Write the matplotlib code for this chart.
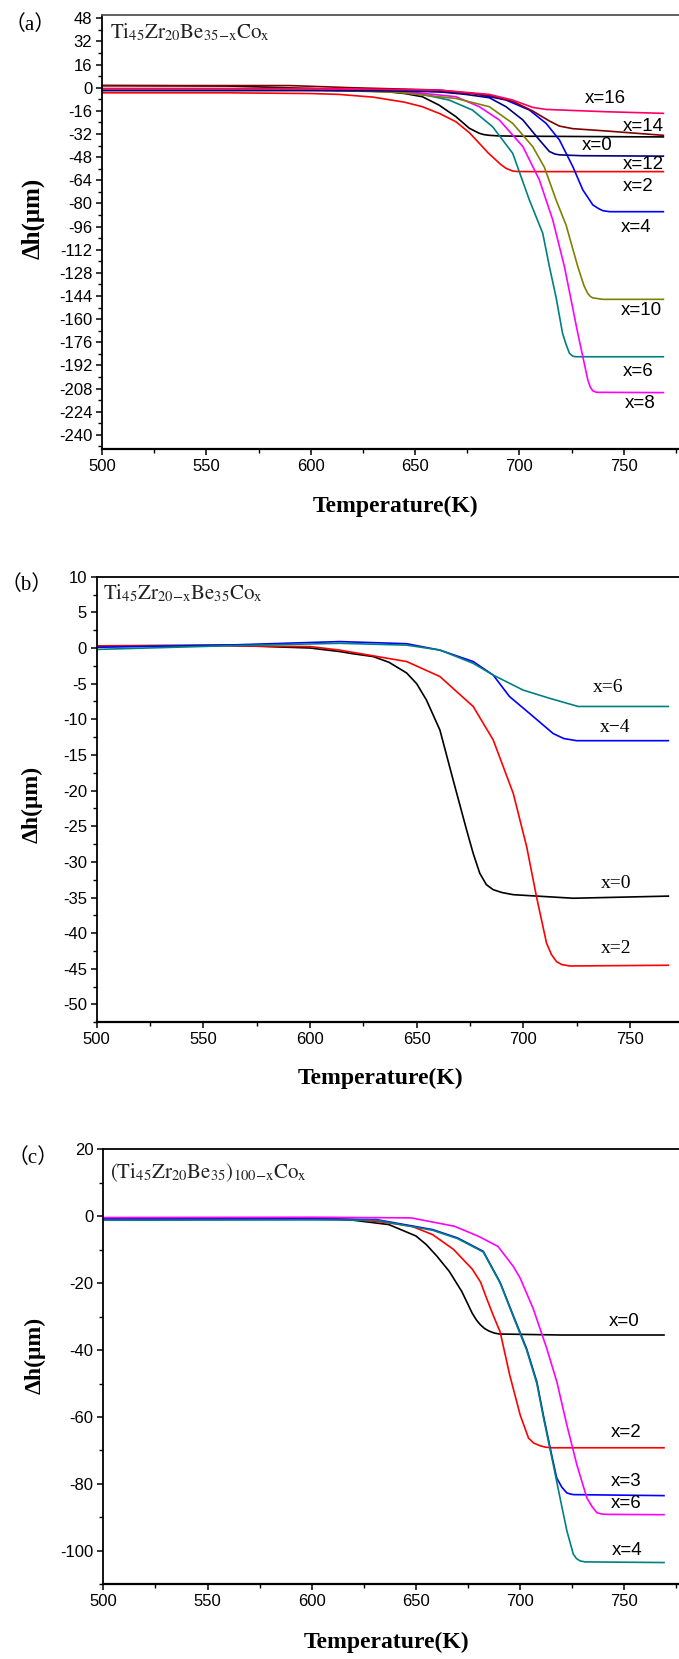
import matplotlib
matplotlib.use('Agg')
import matplotlib.pyplot as plt
from matplotlib.ticker import MultipleLocator

plt.rcParams['mathtext.fontset'] = 'stix'
plt.rcParams['axes.unicode_minus'] = False
plt.rcParams['font.family'] = ['Liberation Sans', 'DejaVu Sans']

# ---------------- Panel (a): Ti45Zr20Be35-xCox ----------------
a_labels = ['x=0', 'x=2', 'x=4', 'x=6', 'x=8', 'x=10', 'x=12', 'x=14', 'x=16']
a_colors = ['#000000', '#FF0000', '#0000FF', '#008080', '#FF00FF', '#808000', '#000080', '#800000', '#FF0066']
a_T0 = [500, 560, 600, 613, 637, 645, 653.5, 661.5, 669.6, 676, 680.8, 683, 685.6, 690, 700, 740, 769]
a_h0 = [1.5, 1.2, -0.5, -1.5, -2.8, -4.0, -6.2, -12.0, -20.0, -28.0, -31.5, -32.4, -32.9, -33.3, -33.5, -33.8, -34.0]
a_T2 = [500, 560, 600, 613.5, 630, 645, 653.5, 662, 669.6, 676, 680.8, 685, 688.8, 691, 693.6, 696.8, 699, 705, 769]
a_h2 = [-3.5, -3.5, -4.0, -4.6, -6.5, -10.0, -13.1, -18.0, -23.5, -31.0, -38.4, -45.0, -50.0, -53.0, -55.7, -57.6, -57.9, -58.0, -58.0]
a_T4 = [500, 600, 650, 677.5, 693.6, 704.8, 712.8, 719.2, 725.6, 730.4, 735.2, 738, 740, 743.2, 769]
a_h4 = [-1.5, -1.5, -2.0, -3.8, -8.5, -15.4, -24.6, -36.1, -54.5, -70.6, -81.0, -83.6, -85.0, -85.7, -85.7]
a_T6 = [500, 600, 640, 653.5, 666.3, 677.5, 687.2, 696.8, 704.8, 711.2, 714.4, 717.6, 720.7, 722.5, 724, 725.6, 727, 769]
a_h6 = [-1.5, -1.5, -2.5, -4.6, -8.5, -15.4, -27.0, -45.3, -77.6, -100.6, -123.7, -145.0, -169.8, -178.0, -183.6, -185.6, -186.0, -186.0]
a_T8 = [500, 600, 640, 653.5, 669.6, 680.8, 690.4, 701.7, 709.6, 716, 721.6, 728, 732.8, 734, 735.2, 737, 769]
a_h8 = [-1.0, -1.0, -2.0, -3.8, -6.2, -13.1, -22.3, -40.7, -63.8, -91.4, -123.7, -169.8, -202.0, -207.0, -209.6, -210.6, -210.8]
a_T10 = [500, 600, 640, 669.6, 685.6, 696.8, 706.4, 712, 717.6, 722.4, 728, 731, 732.7, 734, 735.2, 740, 769]
a_h10 = [-1.6, -1.6, -3.0, -7.4, -13.1, -24.6, -40.7, -55.0, -77.6, -95.0, -123.7, -137.0, -142.0, -144.3, -145.3, -146.3, -146.3]
a_T12 = [500, 600, 640, 661.5, 674.3, 685.6, 693.6, 701.7, 709.6, 714.4, 717, 719.2, 730, 769]
a_h12 = [-2.0, -2.0, -2.2, -2.8, -4.6, -6.9, -13.1, -22.3, -36.1, -44.1, -45.8, -46.4, -47.0, -47.3]
a_T14 = [500, 590, 620, 661.5, 685.6, 696.8, 706.4, 714.4, 719.2, 725.6, 741.7, 769]
a_h14 = [1.5, 1.5, 0.0, -1.6, -5.3, -9.4, -16.1, -23.0, -26.5, -28.3, -29.9, -32.9]
a_T16 = [500, 600, 661.5, 685.6, 696.8, 706.4, 712.8, 741.7, 769]
a_h16 = [-0.5, -0.5, -1.6, -4.6, -8.5, -13.6, -15.0, -16.6, -17.7]
a_T = [a_T0, a_T2, a_T4, a_T6, a_T8, a_T10, a_T12, a_T14, a_T16]
a_h = [a_h0, a_h2, a_h4, a_h6, a_h8, a_h10, a_h12, a_h14, a_h16]
a_lab_T = [729.8, 749.5, 748.6, 749.5, 750.5, 748.6, 749.5, 749.5, 731.3]
a_lab_h = [-39.6, -68.0, -96.4, -196.5, -218.6, -154.3, -53.4, -26.5, -7.1]

# ---------------- Panel (b): Ti45Zr20-xBe35Cox ----------------
b_labels = ['x=0', 'x=2', 'x\u22124', 'x=6']
b_colors = ['#000000', '#FF0000', '#0000FF', '#008080']
b_T0 = [500, 560, 600, 614, 620, 629.6, 637, 645.3, 650, 654.6, 660.9, 667.1, 673.4, 676.5, 679.6, 682.7, 685.9, 690, 695.3, 723.4, 768]
b_h0 = [0.3, 0.4, 0.0, -0.5, -0.8, -1.2, -2.0, -3.5, -5.0, -7.3, -11.5, -18.5, -25.5, -28.8, -31.6, -33.2, -33.9, -34.3, -34.6, -35.1, -34.8]
b_T2 = [500, 560, 600, 614, 645.3, 660.9, 676.5, 685.9, 695.3, 701.6, 706.2, 710.9, 713.2, 715.6, 718, 721.8, 768]
b_h2 = [0.3, 0.3, 0.2, -0.3, -1.9, -4.0, -8.2, -12.9, -20.4, -27.9, -34.9, -41.4, -43.0, -44.0, -44.4, -44.6, -44.5]
b_T4 = [500, 560, 614, 645.3, 660.9, 676.5, 685.9, 693.5, 704.6, 714, 719, 725, 768]
b_h4 = [0.1, 0.4, 0.9, 0.6, -0.3, -1.9, -3.8, -6.8, -9.6, -12.0, -12.7, -13.0, -13.0]
b_T6 = [500, 560, 614, 645.3, 660.9, 676.5, 685.9, 699.9, 712.4, 725.7, 768]
b_h6 = [-0.2, 0.3, 0.66, 0.4, -0.28, -2.15, -3.8, -5.9, -7.06, -8.2, -8.2]
b_T = [b_T0, b_T2, b_T4, b_T6]
b_h = [b_h0, b_h2, b_h4, b_h6]
b_lab_T = [736.4, 736.4, 735.8, 732.6]
b_lab_h = [-33.0, -42.1, -11.15, -5.6]

# ---------------- Panel (c): (Ti45Zr20Be35)100-xCox ----------------
c_labels = ['x=0', 'x=2', 'x=3', 'x=4', 'x=6']
c_colors = ['#000000', '#FF0000', '#0000FF', '#008080', '#FF00FF']
c_T0 = [500, 600, 612.5, 620, 637, 650, 655, 660, 666, 672, 677, 679, 681, 683, 685, 687.5, 690, 720, 769]
c_h0 = [-0.8, -0.6, -0.9, -1.2, -2.5, -5.9, -8.5, -11.9, -16.5, -22.5, -29.0, -31.0, -32.5, -33.6, -34.3, -34.9, -35.2, -35.5, -35.5]
c_T2 = [500, 600, 620, 635, 648, 658, 668, 677, 681, 684, 687, 690.4, 695, 700, 704, 706.5, 709.6, 712, 715, 769]
c_h2 = [-0.8, -0.5, -1.0, -1.8, -3.0, -5.5, -9.9, -15.8, -19.7, -24.7, -29.5, -34.6, -47.5, -59.4, -66.3, -67.8, -68.6, -69.0, -69.2, -69.2]
c_T3 = [500, 600, 631, 658, 670, 682.3, 690.4, 696.7, 703.1, 708, 711.1, 714.4, 717.5, 720, 722.4, 724, 725.5, 769]
c_h3 = [-0.8, -0.8, -1.0, -4.0, -6.5, -10.5, -19.8, -29.7, -39.6, -49.5, -59.4, -69.3, -78.2, -81.0, -82.7, -83.0, -83.2, -83.5]
c_T4 = [500, 600, 631, 658, 670, 682.3, 690.4, 696.7, 703.1, 708, 711.1, 714.4, 715.9, 719.1, 722.4, 725.5, 727, 728.7, 731, 769]
c_h4 = [-1.2, -1.1, -1.2, -4.2, -6.7, -10.7, -20.0, -30.0, -40.0, -50.0, -60.0, -69.8, -74.3, -84.1, -94.0, -101.0, -102.3, -103.0, -103.3, -103.5]
c_T6 = [500, 600, 647.7, 668.5, 680, 689.3, 696.7, 700, 706.3, 712.8, 717.6, 722.4, 727.2, 732, 734.5, 736.8, 739, 741.6, 769]
c_h6 = [-0.4, -0.3, -0.5, -3.0, -6.0, -9.0, -15.0, -18.5, -27.7, -39.6, -49.5, -62.4, -74.3, -84.2, -86.8, -88.6, -89.0, -89.1, -89.2]
c_T = [c_T0, c_T2, c_T3, c_T4, c_T6]
c_h = [c_h0, c_h2, c_h3, c_h4, c_h6]
c_lab_T = [742.3, 743.5, 743.5, 744.0, 743.5]
c_lab_h = [-31.4, -64.6, -79.2, -100.0, -86.0]

W, H = 679, 1659
fig = plt.figure(figsize=(W / 100, H / 100), dpi=100)


def box(l, t, r, b):
    return [l / W, 1 - b / H, (r - l) / W, (b - t) / H]


serif = ['Liberation Serif', 'DejaVu Serif']
serif_cjk = ['Liberation Serif', 'Noto Sans CJK SC']


def style(ax, xlim, ylim, ymaj, ymin, topcolor='black'):
    ax.set_xlim(*xlim)
    ax.set_ylim(*ylim)
    ax.xaxis.set_major_locator(MultipleLocator(50))
    ax.xaxis.set_minor_locator(MultipleLocator(25))
    ax.yaxis.set_major_locator(MultipleLocator(ymaj))
    ax.yaxis.set_minor_locator(MultipleLocator(ymin))
    ax.tick_params(which='major', direction='out', length=4.5, width=1.1, labelsize=12, pad=2.5)
    ax.tick_params(which='minor', direction='out', length=3, width=1.0)
    ax.tick_params(top=False, right=False, which='both')
    ax.spines['right'].set_visible(False)
    ax.spines['left'].set_linewidth(1.3)
    ax.spines['bottom'].set_linewidth(1.6)
    ax.spines['top'].set_linewidth(1.3)
    ax.spines['top'].set_color(topcolor)


# Panel a
ax = fig.add_axes(box(102, 15, 679, 449.3))
for T, h, c in zip(a_T, a_h, a_colors):
    ax.plot(T, h, color=c, lw=1.2)
for lab, tx, ty in zip(a_labels, a_lab_T, a_lab_h):
    ax.text(tx, ty, lab, fontsize=13.5, ha='left', va='center', color='black')
style(ax, (500, 776.5), (-250, 50.3), 16, 8, topcolor='#555555')
ax.set_yticks(list(range(-240, 49, 16)))

# Panel b
bx = fig.add_axes(box(96.7, 576.7, 679, 1022.3))
for T, h, c in zip(b_T, b_h, b_colors):
    bx.plot(T, h, color=c, lw=1.2)
for lab, tx, ty in zip(b_labels, b_lab_T, b_lab_h):
    bx.text(tx, ty, lab, fontsize=14, ha='left', va='center', color='black', family=serif)
style(bx, (500, 773), (-52.5, 10), 5, 2.5)
bx.set_yticks(list(range(-50, 11, 5)))

# Panel c
cx = fig.add_axes(box(103.3, 1149.3, 679, 1584.3))
for T, h, c in zip(c_T, c_h, c_colors):
    cx.plot(T, h, color=c, lw=1.2)
for lab, tx, ty in zip(c_labels, c_lab_T, c_lab_h):
    cx.text(tx, ty, lab, fontsize=13.5, ha='left', va='center', color='black')
style(cx, (500, 776.2), (-110, 20), 20, 10)
cx.set_yticks(list(range(-100, 21, 20)))

# axis titles
for (xc, yc) in [(395, 506.7), (381, 1078), (387, 1642)]:
    fig.text(xc / W, 1 - yc / H, 'Temperature(K)', fontsize=17, fontweight='bold',
             family=serif, ha='center', va='center')
for (xc, yc, fs) in [(33, 218, 18), (32, 804, 17), (35, 1355, 17)]:
    fig.text(xc / W, 1 - yc / H, '\u0394h(\u03bcm)', fontsize=fs, fontweight='bold',
             family=serif, ha='center', va='center', rotation=90)

# panel letters
for (xc, yc, s) in [(30, 25, '\uff08a\uff09'), (27, 585, '\uff08b\uff09'), (33, 1158, '\uff08c\uff09')]:
    fig.text(xc / W, 1 - yc / H, s, fontsize=15, family=serif_cjk, ha='center', va='center')

# composition labels
fig.text(110 / W, 1 - 38 / H,
         r'$\mathrm{Ti}_{45}\mathrm{Zr}_{20}\mathrm{Be}_{\mathrm{35{-}x}}\mathrm{Co}_{\mathrm{x}}$',
         fontsize=15, ha='left', va='baseline', color='#222222')
fig.text(103 / W, 1 - 599 / H,
         r'$\mathrm{Ti}_{45}\mathrm{Zr}_{\mathrm{20{-}x}}\mathrm{Be}_{35}\mathrm{Co}_{\mathrm{x}}$',
         fontsize=15, ha='left', va='baseline', color='#222222')
fig.text(110 / W, 1 - 1178 / H,
         r'$(\mathrm{Ti}_{45}\mathrm{Zr}_{20}\mathrm{Be}_{35})_{\mathrm{100{-}x}}\mathrm{Co}_{\mathrm{x}}$',
         fontsize=15, ha='left', va='baseline', color='#222222')

fig.savefig('out.png', dpi=100)
